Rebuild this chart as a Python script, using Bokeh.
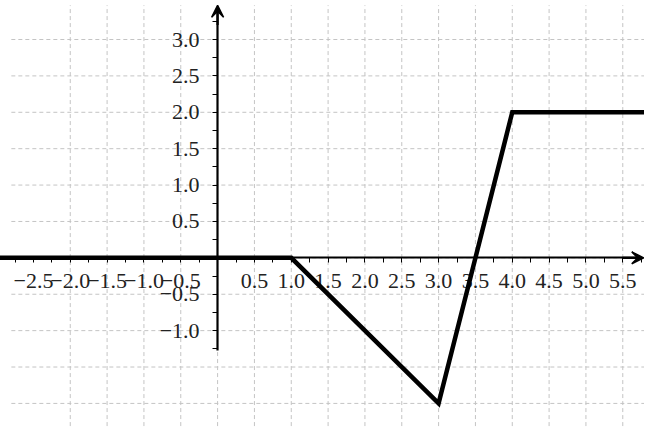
from bokeh.plotting import figure
from bokeh.models import LinearAxis, FixedTicker, Arrow, VeeHead, Range1d
from bokeh.embed import file_html
from bokeh.resources import INLINE

# ---- data ----
fx = [-3.0, 1.0, 3.0, 4.0, 6.0]
fy = [0.0, 0.0, -2.0, 2.0, 2.0]

x_major = [-2.5, -2.0, -1.5, -1.0, -0.5, 0.5, 1.0, 1.5, 2.0, 2.5, 3.0, 3.5, 4.0, 4.5, 5.0, 5.5]
x_labels = ["−2.5", "−2.0", "−1.5", "−1.0", "−0.5", "0.5", "1.0", "1.5", "2.0", "2.5",
            "3.0", "3.5", "4.0", "4.5", "5.0", "5.5"]
x_minor = [-2.75, -2.25, -1.75, -1.25, -0.75, -0.25, 0.25, 0.75, 1.25, 1.75, 2.25, 2.75,
           3.25, 3.75, 4.25, 4.75, 5.25, 5.75]

y_major = [-1.0, -0.5, 0.5, 1.0, 1.5, 2.0, 2.5, 3.0]
y_labels = ["−1.0", "−0.5", "0.5", "1.0", "1.5", "2.0", "2.5", "3.0"]
y_minor = [-1.25, -0.75, -0.25, 0.25, 0.75, 1.25, 1.75, 2.25, 2.75, 3.25]

x_grid = [-2.0, -1.5, -1.0, -0.5, 0.0, 0.5, 1.0, 1.5, 2.0, 2.5, 3.0, 3.5, 4.0, 4.5, 5.0, 5.5]
y_grid = [-2.0, -1.5, -1.0, -0.5, 0.0, 0.5, 1.0, 1.5, 2.0, 2.5, 3.0]

# ---- layout ----
W, H = 644, 427
x_lo, x_hi = -2.947, 5.795
y_lo, y_hi = -2.331, 3.536

p = figure(width=W, height=H, x_range=Range1d(x_lo, x_hi), y_range=Range1d(y_lo, y_hi),
           x_axis_type=None, y_axis_type=None, output_backend="svg",
           toolbar_location=None, min_border=0)
p.outline_line_color = None
p.background_fill_color = "white"
p.border_fill_color = "white"

GRID = "#c4c4c4"
# vertical grid lines
p.segment(x0=x_grid, y0=[-2.6] * len(x_grid), x1=x_grid, y1=[3.47] * len(x_grid),
          line_color=GRID, line_width=1, line_dash="4 3")
# horizontal grid lines
p.segment(x0=[-2.8] * len(y_grid), y0=y_grid, x1=[6.0] * len(y_grid), y1=y_grid,
          line_color=GRID, line_width=1, line_dash="4 3")

FONT = "Liberation Serif"
FS = "22px"

xaxis = LinearAxis(fixed_location=0, bounds=(x_lo, x_hi - 0.05),
                   ticker=FixedTicker(ticks=x_major, minor_ticks=x_minor),
                   major_label_overrides={v: s for v, s in zip(x_major, x_labels)},
                   axis_line_width=2.2, axis_line_color="black",
                   major_tick_in=0, major_tick_out=5, minor_tick_in=0, minor_tick_out=5,
                   major_tick_line_color="black", minor_tick_line_color="black",
                   major_label_standoff=11,
                   major_label_text_font=FONT, major_label_text_font_size=FS,
                   major_label_text_color="#222222")
p.add_layout(xaxis, "below")

yaxis = LinearAxis(fixed_location=0, bounds=(-1.27, 3.4),
                   ticker=FixedTicker(ticks=y_major, minor_ticks=y_minor),
                   major_label_overrides={v: s for v, s in zip(y_major, y_labels)},
                   axis_line_width=2.2, axis_line_color="black",
                   major_tick_in=0, major_tick_out=5, minor_tick_in=0, minor_tick_out=5,
                   major_tick_line_color="black", minor_tick_line_color="black",
                   major_label_standoff=13,
                   major_label_text_font=FONT, major_label_text_font_size=FS,
                   major_label_text_color="#222222")
p.add_layout(yaxis, "left")

# arrow heads of the axes
p.add_layout(Arrow(end=VeeHead(size=12, fill_color="black", line_color="black", line_width=1.5),
                   x_start=x_hi - 0.3, y_start=0, x_end=x_hi - 0.01, y_end=0,
                   line_width=2.2, line_color="black"))
p.add_layout(Arrow(end=VeeHead(size=12, fill_color="black", line_color="black", line_width=1.5),
                   x_start=0, y_start=3.2, x_end=0, y_end=3.47,
                   line_width=2.2, line_color="black"))

# the function
p.line(fx, fy, line_color="black", line_width=4.5, line_join="miter", level="overlay")

open("out.html", "w").write(file_html(p, INLINE))
